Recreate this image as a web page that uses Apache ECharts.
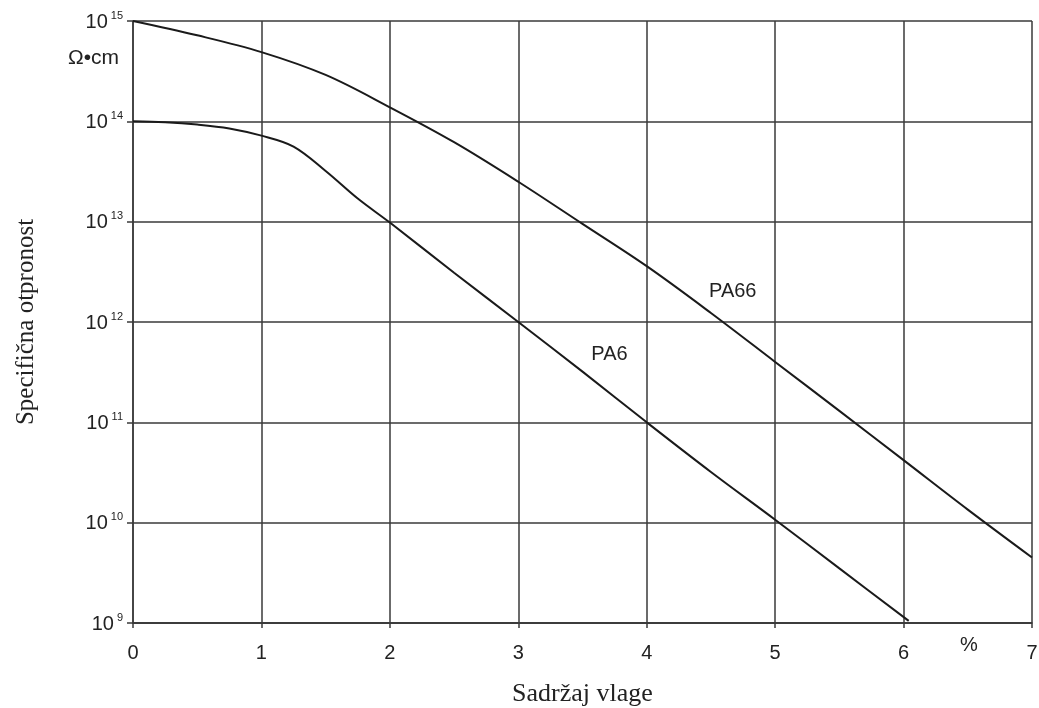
<!DOCTYPE html>
<html>
<head>
<meta charset="utf-8">
<script src="https://cdn.jsdelivr.net/npm/echarts@6/dist/echarts.min.js"></script>
<style>html,body{margin:0;padding:0;background:#fff}#c{width:1039px;height:708px}</style>
</head>
<body>
<div id="c"></div>
<script>
// Moisture content (%) and specific resistivity (Ω·cm)
var pa66X = [0, 0.5, 1, 1.5, 2, 2.5, 3, 3.5, 4, 4.5, 5, 5.5, 6, 6.5, 7];
var pa66Y = [1e15, 7.2e14, 4.9e14, 2.9e14, 1.38e14, 6.2e13, 2.5e13, 9.5e12, 3.6e12, 1.23e12, 4.0e11, 1.3e11, 4.2e10, 1.35e10, 4.5e9];
var pa6X = [0, 0.25, 0.5, 0.75, 1, 1.25, 1.5, 1.75, 2, 2.5, 3, 3.5, 4, 4.5, 5, 5.5, 6.04];
var pa6Y = [1e14, 9.8e13, 9.3e13, 8.5e13, 7.2e13, 5.6e13, 3.2e13, 1.7e13, 9.8e12, 3.1e12, 1e12, 3.2e11, 1e11, 3.2e10, 1.07e10, 3.5e9, 1.05e9];
var xTicks = [0, 1, 2, 3, 4, 5, 6, 7];
var yExponents = [9, 10, 11, 12, 13, 14, 15];
var seriesNames = ['PA66', 'PA6'];

function zip(xs, ys) { return xs.map(function (x, i) { return [x, ys[i]]; }); }

var gridColor = '#3a3a3a';
var textColor = '#222';
var sans = 'Liberation Sans, Arial, sans-serif';
var serif = 'Liberation Serif, Times New Roman, serif';

var chart = echarts.init(document.getElementById('c'), null, { renderer: 'canvas' });
chart.setOption({
  animation: false,
  backgroundColor: '#fff',
  grid: { left: 133, right: 7, top: 21, bottom: 85, containLabel: false, outerBoundsMode: 'none' },
  xAxis: {
    type: 'value', min: xTicks[0], max: xTicks[xTicks.length - 1], interval: 1,
    name: 'Sadržaj vlage', nameLocation: 'middle', nameGap: 58,
    nameTextStyle: { fontFamily: serif, fontSize: 26, color: textColor },
    axisLine: { show: true, lineStyle: { color: gridColor, width: 1.5 } },
    axisTick: { show: true, length: 5, lineStyle: { color: gridColor, width: 1.5 } },
    axisLabel: { fontFamily: sans, fontSize: 20, color: textColor, margin: 20 },
    splitLine: { show: true, lineStyle: { color: gridColor, width: 1.5 } }
  },
  yAxis: {
    type: 'log', logBase: 10,
    min: Math.pow(10, yExponents[0]), max: Math.pow(10, yExponents[yExponents.length - 1]),
    name: 'Specifična otpronost', nameLocation: 'middle', nameGap: 94, nameRotate: 90,
    nameTextStyle: { fontFamily: serif, fontSize: 25, color: textColor },
    axisLine: { show: true, lineStyle: { color: gridColor, width: 1.5 } },
    axisTick: { show: true, length: 6, lineStyle: { color: gridColor, width: 1.5 } },
    axisLabel: {
      margin: 10,
      formatter: function (v) {
        var e = Math.round(Math.log10(v));
        return '{b|10}{s|' + e + '}';
      },
      rich: {
        b: { fontFamily: sans, fontSize: 20, color: textColor, lineHeight: 22, verticalAlign: 'bottom' },
        s: { fontFamily: sans, fontSize: 11, color: textColor, lineHeight: 22, verticalAlign: 'top', padding: [0, 0, 0, 3] }
      }
    },
    splitLine: { show: true, lineStyle: { color: gridColor, width: 1.5 } }
  },
  series: [
    {
      name: seriesNames[0], type: 'line', smooth: 0.35, showSymbol: false,
      lineStyle: { color: '#1a1a1a', width: 2 },
      data: zip(pa66X, pa66Y),
      markPoint: {
        symbolSize: 0,
        label: { show: true, formatter: seriesNames[0], fontFamily: sans, fontSize: 20, color: textColor, position: 'inside' },
        data: [{ coord: [4.67, 2.0e12] }]
      }
    },
    {
      name: seriesNames[1], type: 'line', smooth: 0.35, showSymbol: false,
      lineStyle: { color: '#1a1a1a', width: 2 },
      data: zip(pa6X, pa6Y),
      markPoint: {
        symbolSize: 0,
        label: { show: true, formatter: seriesNames[1], fontFamily: sans, fontSize: 20, color: textColor, position: 'inside' },
        data: [{ coord: [3.71, 4.7e11] }]
      }
    }
  ],
  graphic: [
    { type: 'text', left: 68, top: 48, style: { text: 'Ω•cm', fontFamily: sans, fontSize: 21, fill: textColor } },
    { type: 'text', left: 960, top: 635, style: { text: '%', fontFamily: sans, fontSize: 20, fill: textColor } }
  ]
});
</script>
</body>
</html>
